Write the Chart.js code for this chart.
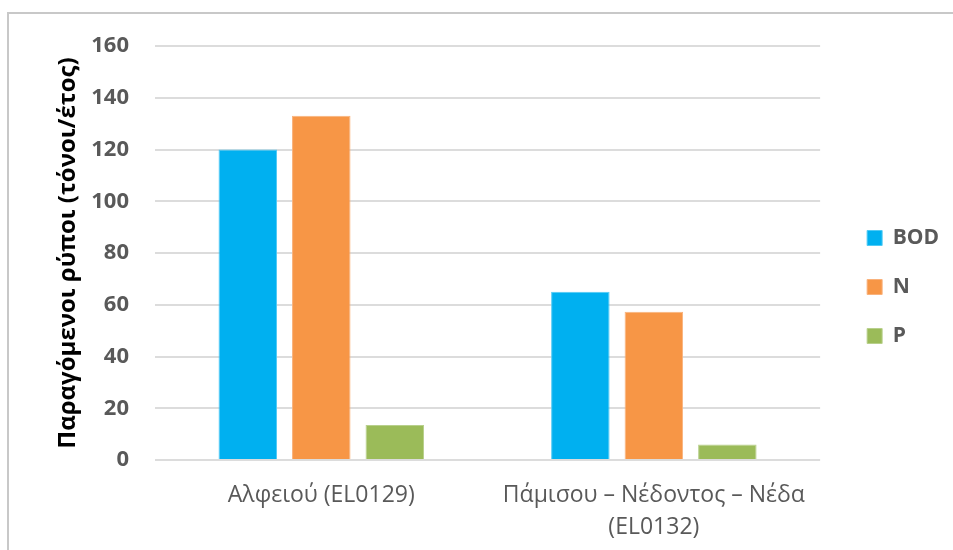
<!DOCTYPE html>
<html>
<head>
<meta charset="utf-8">
<script src="https://cdn.jsdelivr.net/npm/chart.js@4/dist/chart.umd.min.js"></script>
<style>
  html, body { margin: 0; padding: 0; background: #ffffff; }
  #wrap { position: relative; width: 953px; height: 550px; overflow: hidden; background: #fff; }
  #frame { position: absolute; left: 7px; top: 12px; width: 1000px; height: 600px;
           border-left: 2px solid #c8c8c8; border-top: 2px solid #c8c8c8; box-sizing: border-box; }
  #c { position: absolute; left: 0; top: 0; }
</style>
</head>
<body>
<div id="wrap">
  <div id="frame"></div>
  <canvas id="c" width="953" height="550"></canvas>
</div>
<script>
const categories = ["Αλφειού (EL0129)", ["Πάμισου – Νέδοντος – Νέδα", "(EL0132)"]];
const seriesNames = ["BOD", "N", "P"];
const bodValues = [120, 65];
const nValues = [133, 57.3];
const pValues = [13.5, 6];
const yTicks = [0, 20, 40, 60, 80, 100, 120, 140, 160];
const yTitle = "Παραγόμενοι ρύποι (τόνοι/έτος)";

const colors = ["#00B0F0", "#F79646", "#9BBB59"];
const borders = ["#4fcaf5", "#f9b27c", "#b8d08c"];
const seriesValues = [bodValues, nValues, pValues];

const FONT = "'Open Sans', 'Noto Sans', 'DejaVu Sans', sans-serif";

new Chart(document.getElementById('c'), {
  type: 'bar',
  data: {
    labels: categories,
    datasets: seriesNames.map((name, i) => ({
      label: name,
      data: seriesValues[i],
      backgroundColor: colors[i],
      borderColor: borders[i],
      borderWidth: 1,
      barPercentage: 0.796,
      categoryPercentage: 0.663,
      yAxisID: 'y'
    }))
  },
  options: {
    responsive: false,
    animation: false,
    devicePixelRatio: 1,
    layout: { padding: { left: 50, top: 24, right: 4, bottom: 0 } },
    plugins: {
      tooltip: { enabled: false },
      legend: {
        position: 'right',
        align: 'center',
        labels: {
          boxWidth: 15,
          boxHeight: 15,
          padding: 28,
          color: '#595959',
          font: { family: FONT, size: 21, weight: 'bold' }
        }
      }
    },
    scales: {
      x: {
        grid: { display: false, drawTicks: false },
        border: { display: false },
        ticks: {
          color: '#595959',
          padding: 19,
          maxRotation: 0,
          autoSkip: false,
          font: { family: FONT, size: 23, lineHeight: 1.4 }
        },
        afterFit: s => { s.height = 90; }
      },
      y: {
        min: 0,
        max: 160,
        afterBuildTicks: s => { s.ticks = yTicks.map(v => ({ value: v })); },
        grid: { color: '#dcdcdc', lineWidth: 2, drawTicks: false },
        border: { display: false },
        ticks: {
          color: '#595959',
          padding: 26,
          font: { family: FONT, size: 22, weight: 'bold' }
        },
        title: {
          display: true,
          text: yTitle,
          color: '#000000',
          padding: 4,
          font: { family: FONT, size: 24, weight: 'bold' }
        },
        afterFit: s => { s.width = 105; s.paddingTop = 46; }
      },
      yRightSpacer: {
        type: 'linear',
        position: 'right',
        display: true,
        grid: { display: false, drawTicks: false },
        border: { display: false },
        ticks: { display: false },
        afterFit: s => { s.width = 19; }
      }
    }
  }
});
</script>
</body>
</html>
